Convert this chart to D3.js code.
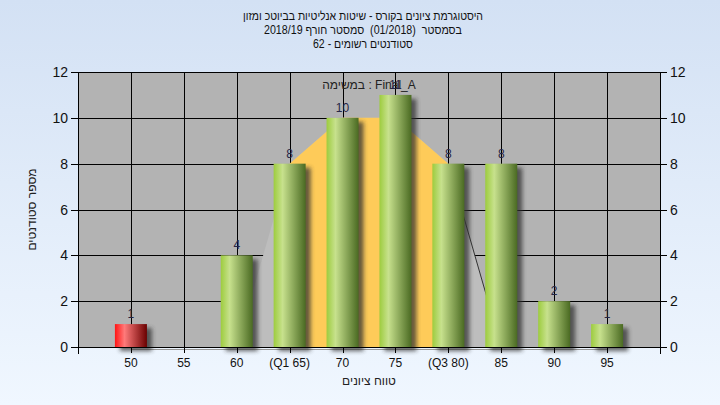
<!DOCTYPE html>
<html><head><meta charset="utf-8">
<script src="https://cdn.jsdelivr.net/npm/d3@7"></script>
<style>body{margin:0;padding:0;overflow:hidden}svg{display:block}text{white-space:pre}</style>
</head><body>
<script>
const titleLines = ["היסטוגרמת ציונים בקורס - שיטות אנליטיות בביוטכ ומזון", "בסמסטר  (01/2018)  סמסטר חורף 2018/19", "סטודנטים רשומים - 62"];
const titleWidths = [240, 198, 100];
const annotation = "במשימה : Final_A";
const categories = [50,55,60,65,70,75,80,85,90,95];
const tickLabels = ["50","55","60","(Q1 65)","70","75","(Q3 80)","85","90","95"];
const counts = [1,0,4,8,10,11,8,8,2,1];
const failing = [true,false,false,false,false,false,false,false,false,false];
const areaX = [60,65,70,75,80,85];
const areaY = [0,8,10,10,8,0];
const iqrX = [65,70,75,80];
const iqrY = [8,10,10,8];
const yTicks = [0,2,4,6,8,10,12];
const xTitle = "טווח ציונים";
const yTitle = "מספר סטודנטים";

const W=720,H=405;
const L=78,R=660,T=72,B=347;
const svg=d3.select("body").append("svg").attr("width",W).attr("height",H);
const defs=svg.append("defs");
const bg=defs.append("linearGradient").attr("id","bg").attr("x1",0).attr("y1",0).attr("x2",0).attr("y2",1);
bg.append("stop").attr("offset","0%").attr("stop-color","#d3e1f4");
bg.append("stop").attr("offset","100%").attr("stop-color","#f0f7ff");
const gg=defs.append("linearGradient").attr("id","gGreen");
[["0%","#9dcc3e"],["28%","#c7e18d"],["100%","#4a6a22"]].forEach(s=>gg.append("stop").attr("offset",s[0]).attr("stop-color",s[1]));
const gr=defs.append("linearGradient").attr("id","gRed");
[["0%","#ff1414"],["30%","#ff7a7a"],["100%","#6a0000"]].forEach(s=>gr.append("stop").attr("offset",s[0]).attr("stop-color",s[1]));
defs.append("filter").attr("id","blur").attr("x","-50%").attr("y","-50%").attr("width","200%").attr("height","200%")
  .append("feGaussianBlur").attr("stdDeviation",2);

svg.append("rect").attr("width",W).attr("height",H).attr("fill","url(#bg)");

const x=d3.scaleLinear().domain([45,100]).range([L,R]);
const y=d3.scaleLinear().domain([0,12]).range([B,T]);

svg.append("rect").attr("x",L).attr("y",T).attr("width",R-L).attr("height",B-T).attr("fill","#b3b3b3");

// grid
const grid=svg.append("g").attr("stroke","#000").attr("stroke-width",1);
yTicks.forEach(t=>grid.append("line").attr("x1",L).attr("x2",R).attr("y1",Math.round(y(t))+0.5).attr("y2",Math.round(y(t))+0.5));
categories.forEach(c=>grid.append("line").attr("x1",Math.round(x(c))+0.5).attr("x2",Math.round(x(c))+0.5).attr("y1",T).attr("y2",B));

// areas
const area=d3.area().x(d=>x(d[0])).y0(y(0)).y1(d=>y(d[1]));
svg.append("path").datum(areaX.map((v,i)=>[v,areaY[i]])).attr("d",area).attr("fill","#bdbdbd");
svg.append("path").datum(iqrX.map((v,i)=>[v,iqrY[i]])).attr("d",area).attr("fill","#fecb59");
svg.append("path").datum([[areaX[4],areaY[4]],[areaX[5],areaY[5]]]).attr("d",d3.line().x(d=>x(d[0])).y(d=>y(d[1])))
  .attr("stroke","#333").attr("stroke-width",1).attr("fill","none");
svg.append("line").attr("x1",x(categories[0])).attr("x2",x(categories[categories.length-1])).attr("y1",B+2.5).attr("y2",B+2.5).attr("stroke","#9a9a9a");

// bars
const bw=32;
const data=categories.map((c,i)=>({c,v:counts[i],fail:failing[i],lab:tickLabels[i]})).filter(d=>d.v>0);
svg.append("g").selectAll("rect").data(data).join("rect")
  .attr("x",d=>x(d.c)-bw/2+5).attr("y",d=>y(d.v)+4).attr("width",bw).attr("height",d=>y(0)-y(d.v))
  .attr("fill","#303030").attr("opacity",0.75).attr("filter","url(#blur)");
svg.append("g").selectAll("rect").data(data).join("rect")
  .attr("x",d=>x(d.c)-bw/2).attr("y",d=>y(d.v)).attr("width",bw).attr("height",d=>y(0)-y(d.v))
  .attr("fill",d=>d.fail?"url(#gRed)":"url(#gGreen)");

// axes lines
const ax=svg.append("g").attr("stroke","#000");
ax.append("line").attr("x1",L).attr("x2",R).attr("y1",B+0.5).attr("y2",B+0.5);
ax.append("line").attr("x1",L+0.5).attr("x2",L+0.5).attr("y1",T).attr("y2",B+7);
ax.append("line").attr("x1",R+0.5).attr("x2",R+0.5).attr("y1",T).attr("y2",B+7);
[45].concat(categories).forEach(c=>ax.append("line").attr("x1",Math.round(x(c))+0.5).attr("x2",Math.round(x(c))+0.5).attr("y1",B).attr("y2",B+6));
yTicks.forEach(t=>{
  ax.append("line").attr("x1",L-7).attr("x2",L).attr("y1",Math.round(y(t))+0.5).attr("y2",Math.round(y(t))+0.5);
  ax.append("line").attr("x1",R).attr("x2",R+7).attr("y1",Math.round(y(t))+0.5).attr("y2",Math.round(y(t))+0.5);
});

const font="'Liberation Sans', Arial, sans-serif";
// y tick labels
yTicks.forEach(t=>{
  svg.append("text").attr("x",L-10).attr("y",y(t)+5).attr("text-anchor","end").attr("font-family",font).attr("font-size",14).attr("fill","#111").text(t);
  svg.append("text").attr("x",R+10).attr("y",y(t)+5).attr("text-anchor","start").attr("font-family",font).attr("font-size",14).attr("fill","#111").text(t);
});
// x tick labels
categories.forEach((c,i)=>svg.append("text").attr("x",x(c)).attr("y",B+20).attr("text-anchor","middle").attr("font-family",font).attr("font-size",12).attr("fill","#111").text(tickLabels[i]));

// annotation
svg.append("text").attr("x",(L+R)/2).attr("y",89).attr("text-anchor","middle").attr("font-family",font).attr("font-size",12).attr("fill","#222").text(annotation);

// value labels
svg.append("g").selectAll("text").data(data).join("text")
  .attr("x",d=>x(d.c)).attr("y",d=>y(d.v)-6).attr("text-anchor","middle").attr("font-family",font).attr("font-size",12).attr("fill","#252545").text(d=>d.v);

// titles
titleLines.forEach((t,i)=>svg.append("text").attr("x",363).attr("y",20+i*14).attr("text-anchor","middle").attr("direction","rtl")
  .attr("font-family",font).attr("font-size",12).attr("fill","#111").attr("textLength",titleWidths[i]).attr("lengthAdjust","spacingAndGlyphs").text(t));
svg.append("text").attr("x",(L+R)/2).attr("y",385).attr("text-anchor","middle").attr("direction","rtl").attr("font-family",font).attr("font-size",12).attr("fill","#222").text(xTitle);
svg.append("text").attr("transform",`translate(36,${(T+B)/2}) rotate(-90)`).attr("text-anchor","middle").attr("direction","rtl").attr("font-family",font).attr("font-size",12).attr("fill","#222").text(yTitle);
</script>
</body></html>
